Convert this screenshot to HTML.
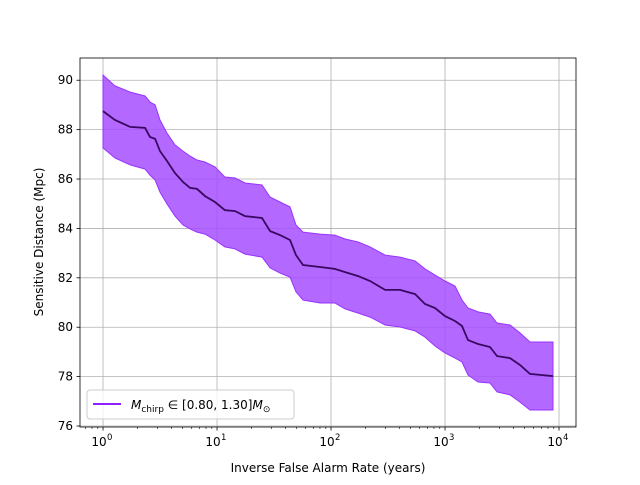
<!DOCTYPE html>
<html><head><meta charset="utf-8"><style>
body{margin:0;background:#fff;font-family:"Liberation Sans","DejaVu Sans",sans-serif}
svg text{font-family:"DejaVu Sans","Liberation Sans",sans-serif;font-size:12px;fill:#000}
</style></head><body>
<svg id="c" width="640" height="480" viewBox="0 0 640 480"></svg>
<script>
const years=[1,1.27,1.73,2.34,2.58,2.86,3.16,3.64,4.28,5.03,5.8,6.68,7.85,9.6,11.7,14.4,17.6,24.8,29.2,35.7,43.7,49.3,56.8,80.1,108,133,173,220,298,403,546,668,817,1000,1224,1410,1592,1945,2483,2858,3715,4550,5567,8854];
const median=[88.75,88.39,88.11,88.07,87.70,87.63,87.13,86.73,86.24,85.88,85.64,85.60,85.31,85.07,84.74,84.70,84.50,84.42,83.89,83.73,83.53,82.92,82.52,82.44,82.36,82.23,82.07,81.87,81.51,81.51,81.34,80.94,80.78,80.45,80.25,80.05,79.48,79.32,79.20,78.83,78.75,78.47,78.11,78.02];
const upper=[90.21,89.77,89.52,89.36,89.12,89.00,88.39,87.86,87.38,87.13,86.93,86.77,86.69,86.49,86.08,86.04,85.84,85.76,85.27,85.07,84.87,84.14,83.85,83.77,83.73,83.57,83.45,83.25,82.92,82.84,82.68,82.36,82.11,81.87,81.67,81.10,80.78,80.62,80.53,80.17,80.09,79.77,79.40,79.40];
const lower=[87.26,86.85,86.57,86.40,86.16,85.96,85.47,84.99,84.50,84.14,83.98,83.85,83.77,83.53,83.25,83.17,82.96,82.84,82.40,82.19,82.03,81.43,81.10,80.98,80.98,80.74,80.57,80.41,80.09,80.01,79.85,79.60,79.24,78.96,78.75,78.59,78.06,77.78,77.74,77.38,77.26,76.97,76.65,76.65];
const yTicks=[76,78,80,82,84,86,88,90];
const xTickExps=[0,1,2,3,4];

const L=80,R=576,T=58,B=427;
const xmin=-0.202,xmax=4.149,ymin=75.96,ymax=90.9;
const X=v=>L+(Math.log10(v)-xmin)/(xmax-xmin)*(R-L);
const Y=v=>B-(v-ymin)/(ymax-ymin)*(B-T);
const svg=document.getElementById('c');
const NS='http://www.w3.org/2000/svg';
function mk(tag,attrs,parent){const e=document.createElementNS(NS,tag);for(const k in attrs)e.setAttribute(k,attrs[k]);(parent||svg).appendChild(e);return e;}

// grid
for(const t of yTicks){const g=mk('line',{x1:L,x2:R,y1:Y(t),y2:Y(t),stroke:'#b0b0b0','stroke-width':0.8});

}
for(const e of xTickExps){const g=mk('line',{x1:X(10**e),x2:X(10**e),y1:T,y2:B,stroke:'#b0b0b0','stroke-width':0.8});

}

// band
let d='M'+years.map((x,i)=>X(x).toFixed(1)+','+Y(upper[i]).toFixed(1)).join('L');
for(let i=years.length-1;i>=0;i--)d+='L'+X(years[i]).toFixed(1)+','+Y(lower[i]).toFixed(1);
d+='Z';
const band=mk('path',{d:d,fill:'#a64dff','fill-opacity':0.85,stroke:'#9933ff','stroke-width':1});


const line=mk('polyline',{points:years.map((x,i)=>X(x).toFixed(1)+','+Y(median[i]).toFixed(1)).join(' '),fill:'none',stroke:'#3a0860','stroke-width':1.8});



// axes frame
const fr=mk('rect',{x:L,y:T,width:R-L,height:B-T,fill:'none',stroke:'#000','stroke-width':0.8});



// y ticks
for(const t of yTicks){mk('line',{x1:L-3.5,x2:L,y1:Y(t),y2:Y(t),stroke:'#000','stroke-width':0.8});
const tx=mk('text',{x:L-7,y:Y(t)+4,'text-anchor':'end'});tx.textContent=t;

}
// x ticks
for(const e of xTickExps){const px=X(10**e);mk('line',{x1:px,x2:px,y1:B,y2:B+3.5,stroke:'#000','stroke-width':0.8});
const tx=mk('text',{x:px-4,y:B+19,'text-anchor':'middle'});tx.textContent='10';


const sp=mk('text',{x:px+4,y:B+13,'font-size':'8.5px'});sp.textContent=e;sp.style.fontSize='8.5px';}
for(let e=-1;e<=4;e++)for(let m=2;m<=9;m++){const v=m*10**e;const px=X(v);if(px<L||px>R)continue;
mk('line',{x1:px,x2:px,y1:B,y2:B+2,stroke:'#000','stroke-width':0.6});}

const xl=mk('text',{x:(L+R)/2,y:472,'text-anchor':'middle'});xl.textContent='Inverse False Alarm Rate (years)';


const yl=mk('text',{x:0,y:0,'text-anchor':'middle',transform:'translate(43,242) rotate(-90)'});yl.textContent='Sensitive Distance (Mpc)';



// legend
const lg=mk('g',{});


mk('rect',{x:87,y:390,width:207,height:29,rx:3,fill:'#fff','fill-opacity':0.8,stroke:'#ccc'},lg);
mk('line',{x1:93,x2:121,y1:404,y2:404,stroke:'#7f00ff','stroke-width':1.8},lg);
const lt=mk('text',{x:131,y:409},lg);
lt.innerHTML='<tspan font-style="italic">M</tspan><tspan font-size="9" dy="3">chirp</tspan><tspan dy="-3"> ∈ [0.80, 1.30]</tspan><tspan font-style="italic">M</tspan><tspan font-size="9" dy="3">⊙</tspan>';


</script></body></html>
